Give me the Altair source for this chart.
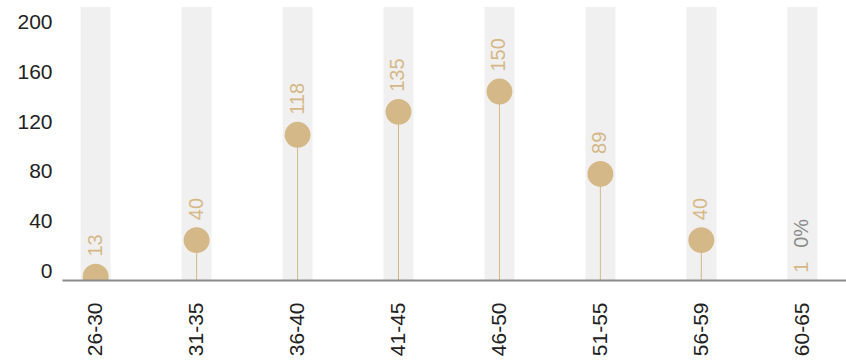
import altair as alt
import pandas as pd

# Age groups and head counts per group
ages = ["26-30", "31-35", "36-40", "41-45", "46-50", "51-55", "56-59", "60-65"]
counts = [13, 40, 118, 135, 150, 89, 40, 1]
shares = ["", "", "", "", "", "", "", "0%"]

# Left-axis tick labels
y_ticks = [0, 40, 80, 120, 160, 200]

GOLD = "#d5b887"
FONT = "Liberation Sans"

# Scale used by the lollipops and the axis scale shown on the left
MARK_MIN, MARK_MAX = 10.5, 212.6
AXIS_MIN, AXIS_MAX = -6.8, 212.4

df = pd.DataFrame({"age": ages, "count": counts, "share": shares})
ticks_df = pd.DataFrame({"tick": y_ticks})

x_enc = alt.X(
    "age:N",
    sort=ages,
    scale=alt.Scale(type="point", padding=0.3834, align=0.435),
    axis=alt.Axis(
        title=None,
        labelAngle=-90,
        labelFontSize=21,
        labelColor="#222222",
        labelFont=FONT,
        labelPadding=22,
        ticks=False,
        tickSize=0,
        domainColor="#8a8a8a",
        domainWidth=2,
        grid=False,
        zindex=1,
    ),
)

mark_scale = alt.Scale(domain=[MARK_MIN, MARK_MAX], nice=False, zero=False)

base = alt.Chart(df).encode(x=x_enc)

# Light grey track behind each group
tracks = base.mark_bar(size=30, color="#f0f0f0").encode(
    y=alt.datum(MARK_MAX, scale=mark_scale, axis=None),
    y2=alt.datum(MARK_MIN),
)

stems = base.mark_rule(color=GOLD, strokeWidth=1, clip=True).encode(
    y=alt.Y("count:Q", scale=mark_scale, axis=None),
    y2=alt.datum(MARK_MIN),
)

dots = base.mark_circle(size=670, color=GOLD, opacity=1, clip=True).encode(
    y=alt.Y("count:Q", scale=mark_scale, axis=None),
)

values = base.mark_text(
    angle=270, align="left", baseline="middle", dx=20,
    fontSize=20, font=FONT, color=GOLD,
).encode(
    y=alt.Y("count:Q", scale=mark_scale, axis=None),
    text="count:Q",
)

notes = base.mark_text(
    angle=270, align="left", baseline="middle", dx=45,
    fontSize=20, font=FONT, color="#8c8c8c",
).encode(
    y=alt.Y("count:Q", scale=mark_scale, axis=None),
    text="share:N",
)

lollipops = alt.layer(tracks, stems, dots, values, notes)

# Invisible layer carrying the left axis
axis_layer = alt.Chart(ticks_df).mark_point(opacity=0).encode(
    y=alt.Y(
        "tick:Q",
        scale=alt.Scale(domain=[AXIS_MIN, AXIS_MAX], nice=False, zero=False),
        axis=alt.Axis(
            values=y_ticks,
            orient="left",
            title=None,
            ticks=False,
            tickSize=0,
            labelPadding=10,
            domain=False,
            grid=False,
            labelFontSize=21,
            labelFont=FONT,
            labelColor="#222222",
        ),
    ),
)

chart = (
    alt.layer(axis_layer, lollipops)
    .resolve_scale(y="independent")
    .properties(
        width=784,
        height=273,
        padding={"left": 62, "top": 7, "right": 0, "bottom": 83},
        autosize=alt.AutoSizeParams(type="none"),
        background="white",
    )
    .configure_view(stroke=None)
)

chart.save("out.html", embed_options={"renderer": "svg", "actions": False})
